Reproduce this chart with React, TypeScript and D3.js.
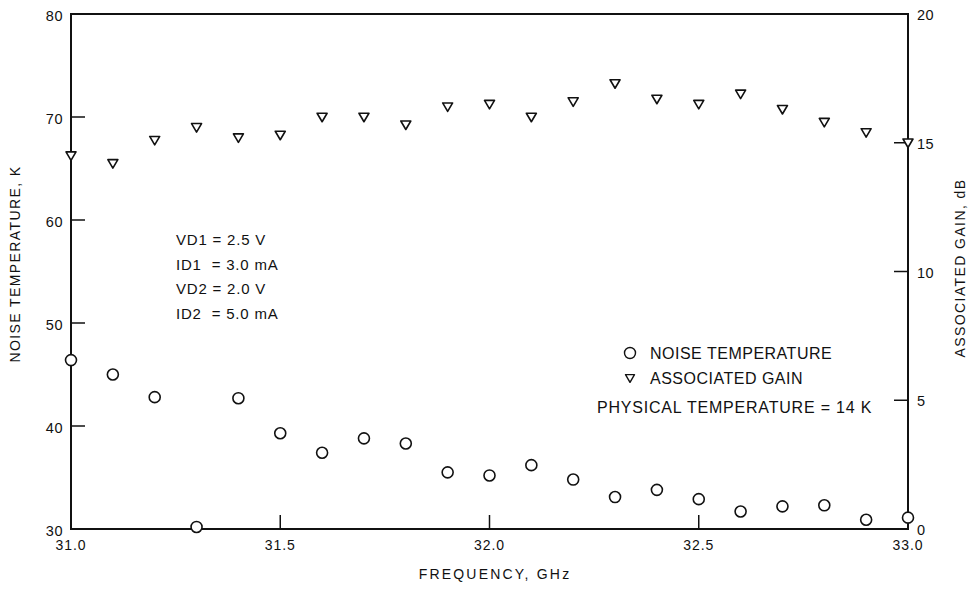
import React from "react";
import * as d3 from "d3";

// frequencies, GHz
const freqs = [31.0, 31.1, 31.2, 31.3, 31.4, 31.5, 31.6, 31.7, 31.8, 31.9, 32.0, 32.1, 32.2, 32.3, 32.4, 32.5, 32.6, 32.7, 32.8, 32.9, 33.0];
// noise temperature, K
const noiseTemp = [46.4, 45.0, 42.8, 30.2, 42.7, 39.3, 37.4, 38.8, 38.3, 35.5, 35.2, 36.2, 34.8, 33.1, 33.8, 32.9, 31.7, 32.2, 32.3, 30.9, 31.1];
// associated gain, dB
const gain = [14.5, 14.2, 15.1, 15.6, 15.2, 15.3, 16.0, 16.0, 15.7, 16.4, 16.5, 16.0, 16.6, 17.3, 16.7, 16.5, 16.9, 16.3, 15.8, 15.4, 15.0];

const xTicks = [31.0, 31.5, 32.0, 32.5, 33.0];
const leftTicks = [30, 40, 50, 60, 70, 80];
const rightTicks = [0, 5, 10, 15, 20];
const biasLines = ["VD1 = 2.5 V", "ID1  = 3.0 mA", "VD2 = 2.0 V", "ID2  = 5.0 mA"];

const W = 974;
const H = 591;
const margin = { top: 14, right: 66, bottom: 62, left: 71 };
const font = "'Liberation Sans', Arial, Helvetica, sans-serif";
const ink = "#111";

const tri = (cx: number, cy: number, s = 5) =>
  `M${cx - s},${cy - s * 0.75} L${cx + s},${cy - s * 0.75} L${cx},${cy + s * 0.95} Z`;

export default function App() {
  const x = d3.scaleLinear().domain([31.0, 33.0]).range([margin.left, W - margin.right]);
  const yL = d3.scaleLinear().domain([30, 80]).range([H - margin.bottom, margin.top]);
  const yR = d3.scaleLinear().domain([0, 20]).range([H - margin.bottom, margin.top]);
  const x0 = margin.left;
  const x1 = W - margin.right;
  const y0 = H - margin.bottom;
  const y1 = margin.top;
  const tickLen = 14;

  return (
    <svg width={W} height={H} style={{ position: "absolute", left: 0, top: 0, background: "#fff" }} fontFamily={font} fill={ink}>
      <rect x={0} y={0} width={W} height={H} fill="#fff" />
      {/* frame */}
      <rect x={x0} y={y1} width={x1 - x0} height={y0 - y1} fill="none" stroke={ink} strokeWidth={2} />

      {/* bottom axis */}
      {xTicks.map((t) => (
        <g key={t}>
          {t > 31.0 && t < 33.0 && <line x1={x(t)} x2={x(t)} y1={y0} y2={y0 - tickLen} stroke={ink} strokeWidth={1.5} />}
          <text x={x(t)} y={y0 + 21} textAnchor="middle" fontSize={14} letterSpacing={1}>{t.toFixed(1)}</text>
        </g>
      ))}
      <text x={495} y={574} dy="0.35em" textAnchor="middle" fontSize={14} letterSpacing={2.2}>FREQUENCY, GHz</text>

      {/* left axis */}
      {leftTicks.map((t) => (
        <g key={t}>
          {t > 30 && t < 80 && <line x1={x0} x2={x0 + tickLen} y1={yL(t)} y2={yL(t)} stroke={ink} strokeWidth={1.5} />}
          <text x={x0 - 8} y={yL(t) + 2} dy="0.35em" textAnchor="end" fontSize={14.5} letterSpacing={0.5}>{t}</text>
        </g>
      ))}
      <text transform={`translate(15,264) rotate(-90)`} dy="0.35em" textAnchor="middle" fontSize={14} letterSpacing={1.4}>NOISE TEMPERATURE, K</text>

      {/* right axis */}
      {rightTicks.map((t) => (
        <g key={t}>
          {t > 0 && t < 20 && <line x1={x1} x2={x1 - tickLen} y1={yR(t)} y2={yR(t)} stroke={ink} strokeWidth={1.5} />}
          <text x={x1 + 9} y={yR(t) + 1} dy="0.35em" textAnchor="start" fontSize={14.5} letterSpacing={0.5}>{t}</text>
        </g>
      ))}
      <text transform={`translate(960,268) rotate(-90)`} dy="0.35em" textAnchor="middle" fontSize={14} letterSpacing={1.4}>ASSOCIATED GAIN, dB</text>

      {/* noise temperature points */}
      {freqs.map((f, i) => (
        <circle key={`n${f}`} cx={x(f)} cy={yL(noiseTemp[i])} r={5.5} fill="#fff" stroke={ink} strokeWidth={1.6} />
      ))}
      {/* gain points */}
      {freqs.map((f, i) => (
        <path key={`g${f}`} d={tri(x(f), yR(gain[i]))} fill="#fff" stroke={ink} strokeWidth={1.6} strokeLinejoin="round" />
      ))}

      {/* bias conditions */}
      {biasLines.map((s, i) => (
        <text key={s} x={176} y={240 + i * 24.5} dy="0.35em" fontSize={15} letterSpacing={0.8} style={{ whiteSpace: "pre" }}>{s}</text>
      ))}

      {/* legend */}
      <circle cx={630} cy={353} r={5.5} fill="#fff" stroke={ink} strokeWidth={1.4} />
      <text x={650} y={353} dy="0.35em" fontSize={16} letterSpacing={0.5}>NOISE TEMPERATURE</text>
      <path d={tri(630, 378, 4.5)} fill="#fff" stroke={ink} strokeWidth={1.4} strokeLinejoin="round" />
      <text x={650} y={378} dy="0.35em" fontSize={16} letterSpacing={0.5}>ASSOCIATED GAIN</text>
      <text x={597} y={407} dy="0.35em" fontSize={16} letterSpacing={0.8}>PHYSICAL TEMPERATURE = 14 K</text>
    </svg>
  );
}
